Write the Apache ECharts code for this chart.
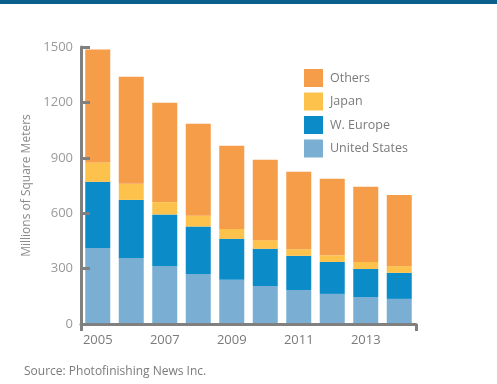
<!DOCTYPE html>
<html><head><meta charset="utf-8">
<script src="https://cdn.jsdelivr.net/npm/echarts@6/dist/echarts.min.js"></script>
<style>html,body{margin:0;padding:0;background:#fff}#c{width:497px;height:384px}</style>
</head><body><div id="c"></div>
<script>
const years = ['2005','2006','2007','2008','2009','2010','2011','2012','2013','2014'];
const unitedStates = [412, 358, 314, 271, 239, 206, 184, 163, 146, 136];
const wEurope      = [358, 314, 279, 257, 222, 201, 185, 173, 152, 141];
const japan        = [105,  87,  67,  58,  54,  47,  36,  36,  38,  36];
const others       = [611, 580, 538, 498, 450, 435, 419, 414, 407, 386];
const yTicks = [0, 300, 600, 900, 1200, 1500];
const seriesNames = ['United States', 'W. Europe', 'Japan', 'Others'];
const colors = ['#7aafd3', '#0b8cc8', '#fcc24c', '#f59d48'];

const font = 'Open Sans';
const axisGray = '#808080';
const chart = echarts.init(document.getElementById('c'), null, {renderer: 'canvas'});
const vals = [unitedStates, wEurope, japan, others];
chart.setOption({
  animation: false,
  textStyle: {fontFamily: font},
  title: {
    text: 'Source: Photofinishing News Inc.',
    left: 19, top: 361,
    textStyle: {fontSize: 12, fontWeight: 'normal', color: '#7a7a7a', fontFamily: font}
  },
  graphic: [{type: 'rect', left: 0, top: 0, shape: {width: 497, height: 4}, style: {fill: '#0b5f8c'}}],
  legend: {
    orient: 'vertical', left: 299, top: 64,
    itemWidth: 19, itemHeight: 18, itemGap: 5.5,
    icon: 'rect',
    data: ['Others', 'Japan', 'W. Europe', 'United States'],
    textStyle: {fontSize: 12.5, color: '#7a7a7a', fontFamily: font, padding: [0, 0, 0, 2]}
  },
  grid: {left: 81, top: 47, width: 335, height: 277, containLabel: false},
  xAxis: [{
    type: 'category', data: years, boundaryGap: true, z: 5,
    axisLine: {lineStyle: {color: axisGray, width: 3}},
    axisTick: {alignWithLabel: true, interval: 1, length: 7, lineStyle: {color: axisGray, width: 3}},
    axisLabel: {interval: 1, fontSize: 13, color: '#7a7a7a', margin: 10, fontFamily: font}
  }, {
    type: 'value', min: 0, max: 1, interval: 1, position: 'bottom', z: 5,
    axisLine: {show: false},
    axisTick: {show: true, length: 7, lineStyle: {color: axisGray, width: 3}},
    axisLabel: {show: false}, splitLine: {show: false}
  }],
  yAxis: {
    type: 'value', min: yTicks[0], max: yTicks[yTicks.length - 1], interval: 300, z: 5,
    name: 'Millions of Square Meters', nameLocation: 'middle', nameGap: 30,
    nameTextStyle: {fontSize: 12, color: '#8a8a8a', fontFamily: font},
    axisLine: {show: true, lineStyle: {color: axisGray, width: 3}},
    axisTick: {show: true, inside: true, length: 9, lineStyle: {color: axisGray, width: 3}},
    axisLabel: {fontSize: 13, color: '#999999', margin: 8, fontFamily: font, formatter: v => String(v)},
    splitLine: {show: false}
  },
  series: seriesNames.map((n, i) => ({
    name: n, type: 'bar', stack: 'total', barWidth: 25, z: 2,
    itemStyle: {color: colors[i]},
    data: vals[i]
  }))
});
</script></body></html>
